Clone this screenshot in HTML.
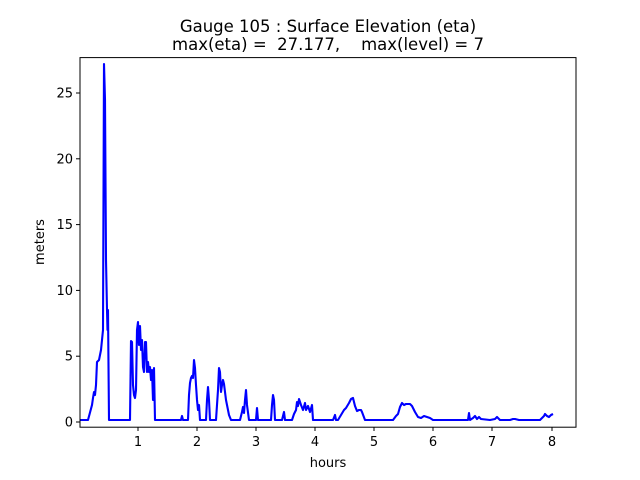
<!DOCTYPE html>
<html><head><meta charset="utf-8"><style>
html,body{margin:0;padding:0;background:#fff;}
svg{display:block;font-family:"DejaVu Sans","Liberation Sans",sans-serif;}
</style></head><body>
<svg width="640" height="480" viewBox="0 0 640 480">
<rect width="640" height="480" fill="#fff"/>
<text x="328" y="32" font-size="16.5" text-anchor="middle">Gauge 105 : Surface Elevation (eta)</text>
<text x="328" y="50" font-size="16.5" text-anchor="middle" xml:space="preserve">max(eta) =  27.177,    max(level) = 7</text>
<polyline fill="none" stroke="#0000ff" stroke-width="2.1" stroke-linejoin="round" points="
80,420 88,420 92,405 93,398 94,392 95,395 96,385 97,362 99,360 101,350 102,340 103,330 104,64 105,100 106,260 107,310 107.5,330 108,310 109,420
130,420 131,341 132,342 133,385 134,395 135,398 136,390 137,330 138,322 139,345 140,326 141,350 142,340 143,367 144,372 145,342 146,342 147,372 148,362 149,372 150,367 151,380 152,370 153,400 154,368 155,420
181,420 182,416 183,420 188,420 189,395 190,383 191,378 192,376 193,378 194,360 195,368 196,385 197,400 198,410 199,405 200,420
206,420 207,400 208,387 209,400 210,420 216,420 217,405 218,390 219,368 220,372 221,392 222,385 223,380 224,384 226,400 228,410 229,415 231,420
240,420 242,412 243,407 244,413 245,400 246,390 247,405 249,420 256,420 257,408 258,420 271,420 272,405 273,395 274,400 275,420 282,420 284,412 285,420
292,420 294,414 296,410 297,402 298,406 299,399 301,405 303,410 305,403 306,410 308,406 310,412 312,405 313,420 333,420 335,415 336,420 338,420
341,415 344,410 346,408 349,403 351,399 353,398 355,406 357,411 359,410 361,410 362,412 365,420 393,420 396,416 398,414 400,407 402,403 404,405 406,404 410,404 412,406 415,412 418,417 421,418 424,416 427,417 430,418 433,420
468,420 469,413 470,420 473,418 475,416 477,419 479,417 481,419 490,420 495,419 497,417 500,420 510,420 513,419 515,419 519,420 540,420 544,416 545,414 547,416 549,417 551,415 553,414"/>
<rect x="80" y="57.6" width="496" height="369.6" fill="none" stroke="#000" stroke-width="1"/>
<g stroke="#000" stroke-width="1">
<line x1="138" y1="427" x2="138" y2="431"/><line x1="197" y1="427" x2="197" y2="431"/><line x1="256" y1="427" x2="256" y2="431"/><line x1="315" y1="427" x2="315" y2="431"/><line x1="374" y1="427" x2="374" y2="431"/><line x1="433" y1="427" x2="433" y2="431"/><line x1="492" y1="427" x2="492" y2="431"/><line x1="552" y1="427" x2="552" y2="431"/>
<line x1="76" y1="422" x2="80" y2="422"/><line x1="76" y1="356.2" x2="80" y2="356.2"/><line x1="76" y1="290.4" x2="80" y2="290.4"/><line x1="76" y1="224.6" x2="80" y2="224.6"/><line x1="76" y1="158.8" x2="80" y2="158.8"/><line x1="76" y1="93" x2="80" y2="93"/>
</g>
<g font-size="13" text-anchor="middle">
<text x="138" y="446">1</text><text x="197" y="446">2</text><text x="256" y="446">3</text><text x="315" y="446">4</text><text x="374" y="446">5</text><text x="433" y="446">6</text><text x="492" y="446">7</text><text x="552" y="446">8</text>
<text x="328" y="467">hours</text>
</g>
<g font-size="13" text-anchor="end">
<text x="73" y="426.5">0</text><text x="73" y="360.7">5</text><text x="73" y="294.9">10</text><text x="73" y="229.1">15</text><text x="73" y="163.3">20</text><text x="73" y="97.5">25</text>
</g>
<text x="44" y="242" font-size="13" text-anchor="middle" transform="rotate(-90 44 242)">meters</text>
</svg>
</body></html>
